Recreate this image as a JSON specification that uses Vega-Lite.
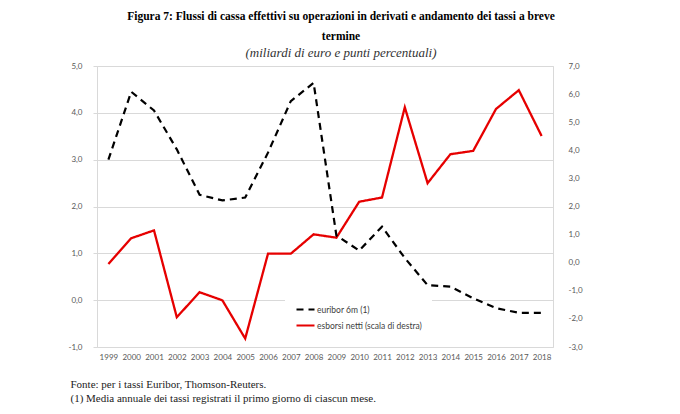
{
  "$schema": "https://vega.github.io/schema/vega-lite/v6.json",
  "width": 456,
  "height": 281,
  "autosize": {"type": "none"},
  "padding": {"left": 97, "top": 66, "right": 127, "bottom": 67},
  "background": "white",
  "title": {
    "text": ["Figura 7: Flussi di cassa effettivi su operazioni in derivati e andamento dei tassi a breve", "termine"],
    "subtitle": "(miliardi di euro e punti percentuali)",
    "anchor": "middle",
    "dx": 16,
    "offset": 2,
    "font": "Liberation Serif",
    "fontSize": 11.5,
    "fontWeight": "bold",
    "color": "black",
    "lineHeight": 20,
    "subtitleFont": "Liberation Serif",
    "subtitleFontStyle": "italic",
    "subtitleFontSize": 13,
    "subtitleColor": "#333333",
    "subtitlePadding": 5
  },
  "data": {
    "values": [
      {"anno": "1999", "serie": "euribor 6m (1)", "valore": 3.0},
      {"anno": "2000", "serie": "euribor 6m (1)", "valore": 4.45},
      {"anno": "2001", "serie": "euribor 6m (1)", "valore": 4.05},
      {"anno": "2002", "serie": "euribor 6m (1)", "valore": 3.22},
      {"anno": "2003", "serie": "euribor 6m (1)", "valore": 2.25},
      {"anno": "2004", "serie": "euribor 6m (1)", "valore": 2.13},
      {"anno": "2005", "serie": "euribor 6m (1)", "valore": 2.19},
      {"anno": "2006", "serie": "euribor 6m (1)", "valore": 3.15},
      {"anno": "2007", "serie": "euribor 6m (1)", "valore": 4.25},
      {"anno": "2008", "serie": "euribor 6m (1)", "valore": 4.64},
      {"anno": "2009", "serie": "euribor 6m (1)", "valore": 1.38},
      {"anno": "2010", "serie": "euribor 6m (1)", "valore": 1.06},
      {"anno": "2011", "serie": "euribor 6m (1)", "valore": 1.57},
      {"anno": "2012", "serie": "euribor 6m (1)", "valore": 0.9},
      {"anno": "2013", "serie": "euribor 6m (1)", "valore": 0.32},
      {"anno": "2014", "serie": "euribor 6m (1)", "valore": 0.29},
      {"anno": "2015", "serie": "euribor 6m (1)", "valore": 0.04},
      {"anno": "2016", "serie": "euribor 6m (1)", "valore": -0.17},
      {"anno": "2017", "serie": "euribor 6m (1)", "valore": -0.27},
      {"anno": "2018", "serie": "euribor 6m (1)", "valore": -0.27},
      {"anno": "1999", "serie": "esborsi netti (scala di destra)", "valore": -0.05},
      {"anno": "2000", "serie": "esborsi netti (scala di destra)", "valore": 0.87},
      {"anno": "2001", "serie": "esborsi netti (scala di destra)", "valore": 1.15},
      {"anno": "2002", "serie": "esborsi netti (scala di destra)", "valore": -1.94},
      {"anno": "2003", "serie": "esborsi netti (scala di destra)", "valore": -1.05},
      {"anno": "2004", "serie": "esborsi netti (scala di destra)", "valore": -1.34},
      {"anno": "2005", "serie": "esborsi netti (scala di destra)", "valore": -2.7},
      {"anno": "2006", "serie": "esborsi netti (scala di destra)", "valore": 0.32},
      {"anno": "2007", "serie": "esborsi netti (scala di destra)", "valore": 0.32},
      {"anno": "2008", "serie": "esborsi netti (scala di destra)", "valore": 1.01},
      {"anno": "2009", "serie": "esborsi netti (scala di destra)", "valore": 0.89},
      {"anno": "2010", "serie": "esborsi netti (scala di destra)", "valore": 2.17},
      {"anno": "2011", "serie": "esborsi netti (scala di destra)", "valore": 2.32},
      {"anno": "2012", "serie": "esborsi netti (scala di destra)", "valore": 5.53},
      {"anno": "2013", "serie": "esborsi netti (scala di destra)", "valore": 2.83},
      {"anno": "2014", "serie": "esborsi netti (scala di destra)", "valore": 3.86},
      {"anno": "2015", "serie": "esborsi netti (scala di destra)", "valore": 3.98},
      {"anno": "2016", "serie": "esborsi netti (scala di destra)", "valore": 5.47},
      {"anno": "2017", "serie": "esborsi netti (scala di destra)", "valore": 6.14},
      {"anno": "2018", "serie": "esborsi netti (scala di destra)", "valore": 4.51}
    ]
  },
  "encoding": {
    "x": {
      "field": "anno",
      "type": "ordinal",
      "scale": {"type": "point", "padding": 0.5},
      "axis": {
        "labelAngle": 0,
        "ticks": false,
        "domain": false,
        "labelPadding": 6,
        "labelFont": "Lato",
        "labelFontSize": 8,
        "labelColor": "#595959",
        "title": ["Fonte: per i tassi Euribor, Thomson-Reuters.", "(1) Media annuale dei tassi registrati il primo giorno di ciascun mese."],
        "titleFont": "Liberation Serif",
        "titleFontSize": 11,
        "titleFontWeight": "normal",
        "titleColor": "#222222",
        "titleAnchor": "start",
        "titleAlign": "left",
        "titleBaseline": "alphabetic",
        "titleLineHeight": 14,
        "titleX": -27,
        "titleY": 40
      }
    },
    "color": {
      "field": "serie",
      "type": "nominal",
      "scale": {"domain": ["euribor 6m (1)", "esborsi netti (scala di destra)"], "range": ["black", "#e60000"]},
      "legend": {"title": null, "orient": "none", "legendX": 188, "legendY": 223}
    },
    "strokeDash": {
      "field": "serie",
      "type": "nominal",
      "scale": {"domain": ["euribor 6m (1)", "esborsi netti (scala di destra)"], "range": [[7, 5], [1, 0]]},
      "legend": {"title": null, "orient": "none", "legendX": 188, "legendY": 223}
    }
  },
  "layer": [
    {
      "transform": [{"filter": "datum.serie === 'esborsi netti (scala di destra)'"}],
      "mark": {"type": "line", "strokeWidth": 2.3},
      "encoding": {
        "y": {
          "field": "valore",
          "type": "quantitative",
          "scale": {"domain": [-3, 7], "nice": false, "zero": false},
          "axis": {
            "orient": "right",
            "values": [-3, -2, -1, 0, 1, 2, 3, 4, 5, 6, 7],
            "labelExpr": "(datum.value < 0 ? '-' : '') + replace(format(abs(datum.value), '.1f'), '.', ',')",
            "grid": false,
            "domain": false,
            "ticks": false,
            "labelPadding": 15,
            "labelFont": "Lato",
            "labelFontSize": 8,
            "labelColor": "#595959",
            "title": null
          }
        }
      }
    },
    {
      "transform": [{"filter": "datum.serie === 'euribor 6m (1)'"}],
      "mark": {"type": "line", "strokeWidth": 2.2},
      "encoding": {
        "y": {
          "field": "valore",
          "type": "quantitative",
          "scale": {"domain": [-1, 5], "nice": false, "zero": false},
          "axis": {
            "orient": "left",
            "values": [-1, 0, 1, 2, 3, 4, 5],
            "labelExpr": "(datum.value < 0 ? '-' : '') + replace(format(abs(datum.value), '.1f'), '.', ',')",
            "grid": true,
            "gridColor": "#d9d9d9",
            "domain": false,
            "tickColor": "#d9d9d9",
            "tickSize": 4,
            "labelPadding": 11,
            "labelFont": "Lato",
            "labelFontSize": 8,
            "labelColor": "#595959",
            "title": null
          }
        }
      }
    }
  ],
  "resolve": {"scale": {"y": "independent"}},
  "config": {
    "view": {"stroke": "#d9d9d9"},
    "legend": {
      "symbolType": "stroke",
      "symbolSize": 324,
      "symbolStrokeWidth": 2.2,
      "labelFont": "Lato",
      "labelFontSize": 8.5,
      "labelColor": "#404040",
      "labelOffset": 1,
      "fillColor": "white",
      "padding": 10,
      "rowPadding": 1
    }
  }
}
